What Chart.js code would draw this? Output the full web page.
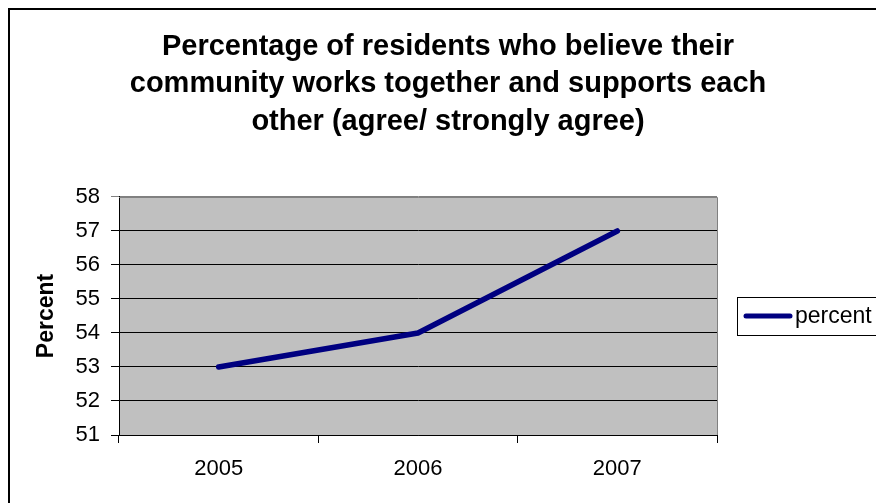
<!DOCTYPE html>
<html><head><meta charset="utf-8">
<script src="https://cdn.jsdelivr.net/npm/chart.js@4.4.0/dist/chart.umd.min.js"></script>
<style>html,body{margin:0;padding:0;background:#fff;overflow:hidden}</style>
</head><body>
<canvas id="c" width="876" height="503" style="display:block;width:876px;height:503px"></canvas>
<script>
const titleLines = ["Percentage of residents who believe their", "community works together and supports each", "other (agree/ strongly agree)"];
const categories = ["2005", "2006", "2007"];
const seriesName = "percent";
const percentValues = [53, 54, 57];
const yMin = 51;
const yMax = 58;
const yAxisTitle = "Percent";

const FONT = "'Liberation Sans', Arial, Helvetica, sans-serif";
const LINE_COLOR = '#000080';

const framePlugin = {
  id: 'frame',
  beforeDraw(chart) {
    const ctx = chart.ctx, a = chart.chartArea;
    ctx.save();
    ctx.fillStyle = '#ffffff';
    ctx.fillRect(0, 0, chart.width, chart.height);
    ctx.fillStyle = '#C0C0C0';
    ctx.fillRect(a.left, a.top, a.right - a.left, a.bottom - a.top);
    ctx.restore();
  },
  beforeDatasetsDraw(chart) {
    const ctx = chart.ctx, a = chart.chartArea;
    ctx.save();
    ctx.strokeStyle = '#808080';
    ctx.lineWidth = 1;
    ctx.beginPath();
    ctx.moveTo(a.left, a.top + 0.5);
    ctx.lineTo(a.right + 0.5, a.top + 0.5);
    ctx.lineTo(a.right + 0.5, a.bottom);
    ctx.stroke();
    ctx.restore();
  },
  afterDraw(chart) {
    const ctx = chart.ctx;
    ctx.save();
    ctx.strokeStyle = '#000';
    ctx.lineWidth = 2;
    ctx.strokeRect(9, 9, chart.width + 20, chart.height + 20);
    const ds = chart.data.datasets[0];
    ctx.lineWidth = 1;
    ctx.strokeStyle = '#000';
    ctx.fillStyle = '#fff';
    ctx.fillRect(737.5, 297.5, 200, 38);
    ctx.strokeRect(737.5, 297.5, 200, 38);
    ctx.strokeStyle = ds.borderColor;
    ctx.lineWidth = 5;
    ctx.lineCap = 'round';
    ctx.beginPath();
    ctx.moveTo(746, 316);
    ctx.lineTo(790, 316);
    ctx.stroke();
    ctx.fillStyle = '#000';
    ctx.font = '23px ' + FONT;
    ctx.textBaseline = 'middle';
    ctx.textAlign = 'left';
    ctx.fillText(ds.label, 795, 317);
    ctx.restore();
  }
};

new Chart(document.getElementById('c'), {
  type: 'line',
  data: {
    labels: categories,
    datasets: [{
      label: seriesName,
      data: percentValues,
      borderColor: LINE_COLOR,
      backgroundColor: LINE_COLOR,
      borderWidth: 5.5,
      pointRadius: 0,
      pointHoverRadius: 0,
      tension: 0,
      borderCapStyle: 'round',
      borderJoinStyle: 'round',
      fill: false
    }]
  },
  options: {
    responsive: false,
    animation: false,
    devicePixelRatio: 1,
    layout: { padding: { left: 20, right: 0, top: 0, bottom: 0 } },
    plugins: {
      legend: { display: false },
      tooltip: { enabled: false },
      title: {
        display: true,
        text: titleLines,
        color: '#000',
        font: { family: FONT, size: 29, weight: 'bold', lineHeight: 1.293 },
        padding: { top: 28, bottom: 56.5 }
      }
    },
    scales: {
      x: {
        type: 'category',
        offset: true,
        grid: { offset: true, drawOnChartArea: false, tickLength: 8, color: '#000' },
        border: { color: '#000', width: 1 },
        ticks: { color: '#000', font: { family: FONT, size: 22 }, padding: 13, maxRotation: 0 },
        afterFit(s) { s.height = 503 - 435; }
      },
      y: {
        min: yMin,
        max: yMax,
        ticks: { stepSize: 1, color: '#000', font: { family: FONT, size: 22 }, padding: 11 },
        grid: {
          tickLength: 8,
          color: (c) => (c.tick && c.tick.value === yMax) ? '#808080' : '#000'
        },
        border: { color: '#000', width: 1 },
        title: {
          display: true,
          text: yAxisTitle,
          color: '#000',
          font: { family: FONT, size: 23, weight: 'bold' },
          padding: { top: 13, bottom: 0 }
        },
        afterFit(s) { s.width = 99; }
      },
      spacer: {
        type: 'linear',
        position: 'right',
        display: true,
        grid: { display: false, drawTicks: false },
        border: { display: false },
        ticks: { display: false },
        afterFit(s) { s.width = 876 - 717; }
      }
    }
  },
  plugins: [framePlugin]
});
</script>
</body></html>
